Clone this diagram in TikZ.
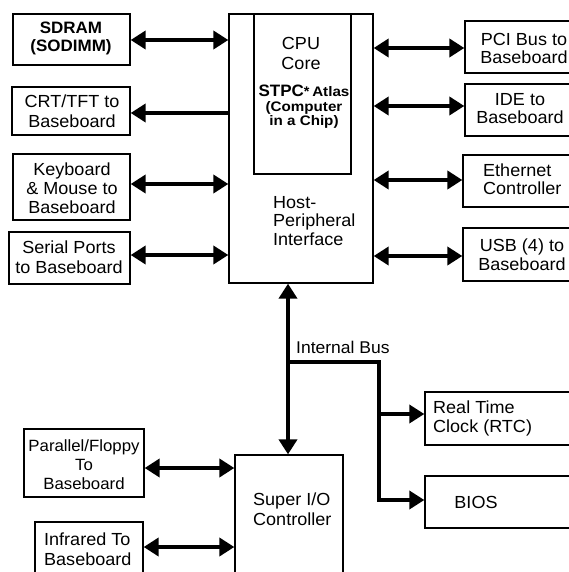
\documentclass[tikz,border=0pt]{standalone}
\usepackage{fontspec}
\setmainfont[FakeStretch=1.03]{Liberation Sans}
\newfontfamily\chipfont[FakeStretch=1.1]{Liberation Sans}
\usetikzlibrary{arrows.meta,fit}
\tikzset{
  bigtip/.tip={Triangle[length=15pt,width=18pt]},
  box/.style={draw, line width=1.3pt, inner sep=0pt, fill=none},
  lbl/.style={inner sep=0pt, anchor=base, align=center,
              font=\fontsize{17.5}{19.5}\selectfont},
  lbll/.style={lbl, align=left, anchor=base west},
  heavy/.style={font=\bfseries\fontsize{16.5}{18}\selectfont},
  chip/.style={inner sep=0pt, anchor=base,
               font=\chipfont\bfseries\fontsize{13.8}{13.5}\selectfont},
  bus/.style={line width=4.5pt},
  branch/.style={line width=3.5pt, line join=miter},
}
\begin{document}
\begin{tikzpicture}[x=1pt,y=-1pt]
\useasboundingbox (0,0) rectangle (569,572);
\clip (0,0) rectangle (569,572);
\fill[white] (0,0) rectangle (569,572);

% host chip and its CPU core (label positions are last-line baselines)
\node[box, fit={(229,14) (373,283)}] (host) {};
\node[box, fit={(254,14) (351,174)}] (cpu) {};
\node[lbl] (cpuT) at (301,69.5) {CPU\\Core};
\node[lbl, heavy] (stpcT) at (304,96.5)
  {STPC{\fontsize{14}{14}\selectfont*}\,{\chipfont\fontsize{13.8}{14}\selectfont Atlas}};
\node[chip, text depth=0pt] (chipA) at (304,111.5) {(Computer};
\node[chip] (chipB) at (304,126) {in a Chip)};
\node[lbll, font=\fontsize{17.5}{18.5}\selectfont] (hostT) at (273,245) {Host-\\Peripheral\\Interface};

% left column
\node[box, fit={(13,14) (130,65)}] (sdram) {};
\node[lbl, heavy] (sdramT) at (71,51.5) {SDRAM\\(SODIMM)};
\node[box, fit={(12,87) (130,135)}] (crt) {};
\node[lbl] (crtT) at (72,127.5) {CRT/TFT to\\Baseboard};
\node[box, fit={(13,154) (130,220)}] (kbd) {};
\node[lbl, font=\fontsize{17.5}{19}\selectfont] (kbdT) at (72,213) {Keyboard\\\& Mouse to\\Baseboard};
\node[box, fit={(9,232) (130,284)}] (ser) {};
\node[lbl] (serT) at (69,273) {Serial Ports\\to Baseboard};

% right column
\node[box, fit={(465,21) (590,73)}] (pci) {};
\node[lbl, font=\fontsize{17.5}{18}\selectfont] (pciT) at (524,64) {PCI Bus to\\Baseboard};
\node[box, fit={(465,84) (590,136)}] (ide) {};
\node[lbl, font=\fontsize{17.5}{18}\selectfont] (ideT) at (520,124) {IDE to\\Baseboard};
\node[box, fit={(463,155) (590,207)}] (eth) {};
\node[lbll, font=\fontsize{17.5}{18}\selectfont] (ethT) at (483,194) {Ethernet\\Controller};
\node[box, fit={(463,228) (590,281)}] (usb) {};
\node[lbl, font=\fontsize{17.5}{18.5}\selectfont] (usbT) at (522,270) {USB (4) to\\Baseboard};

% lower part
\node[box, fit={(235,455) (343,590)}] (sio) {};
\node[lbll] (sioT) at (253,525) {Super I/O\\Controller};
\node[box, fit={(24,429) (144,497)}] (par) {};
\node[lbl, font=\fontsize{16.3}{19}\selectfont] (parT) at (84,489) {Parallel/Floppy\\To\\Baseboard};
\node[box, fit={(35,522) (143,590)}] (inf) {};
\node[lbll] (infT) at (44,565) {Infrared To\\Baseboard};
\node[box, fit={(425,392) (590,445)}] (rtc) {};
\node[lbll, font=\fontsize{17.5}{18.5}\selectfont] (rtcT) at (433,432) {Real Time\\Clock (RTC)};
\node[box, fit={(425,476) (590,528)}] (bios) {};
\node[lbl] (biosT) at (476,508) {BIOS};
\node[lbll, font=\fontsize{17}{19}\selectfont] (busT) at (296,353) {Internal Bus};

% connectors on the host chip
\draw[bus, bigtip-bigtip] (sdram.east |- 0,40) -- (host.west |- 0,40);
\draw[bus, -bigtip] (host.west |- 0,113) -- (crt.east |- 0,113);
\draw[bus, bigtip-bigtip] (kbd.east |- 0,184) -- (host.west |- 0,184);
\draw[bus, bigtip-bigtip] (ser.east |- 0,255) -- (host.west |- 0,255);
\draw[bus, bigtip-bigtip] (host.east |- 0,48) -- (pci.west |- 0,48);
\draw[bus, bigtip-bigtip] (host.east |- 0,106) -- (ide.west |- 0,106);
\draw[bus, bigtip-bigtip] (host.east |- 0,180) -- (eth.west |- 0,180);
\draw[bus, bigtip-bigtip] (host.east |- 0,256) -- (usb.west |- 0,256);

% internal bus
\coordinate (bx) at (288,0);
\coordinate (j1) at (288,362);
\coordinate (j2) at (379,362);
\draw[bus, bigtip-bigtip] (host.south -| bx) -- (sio.north -| bx);
\draw[branch, -bigtip] (j1) -- (j2) -- (j2 |- 0,500) -- (bios.west |- 0,500);
\draw[branch, -bigtip] (j2 |- 0,414) -- (rtc.west |- 0,414);

% super I/O connectors
\draw[bus, bigtip-bigtip] (par.east |- 0,468) -- (sio.west |- 0,468);
\draw[bus, bigtip-bigtip] (inf.east |- 0,547) -- (sio.west |- 0,547);
\end{tikzpicture}
\end{document}
